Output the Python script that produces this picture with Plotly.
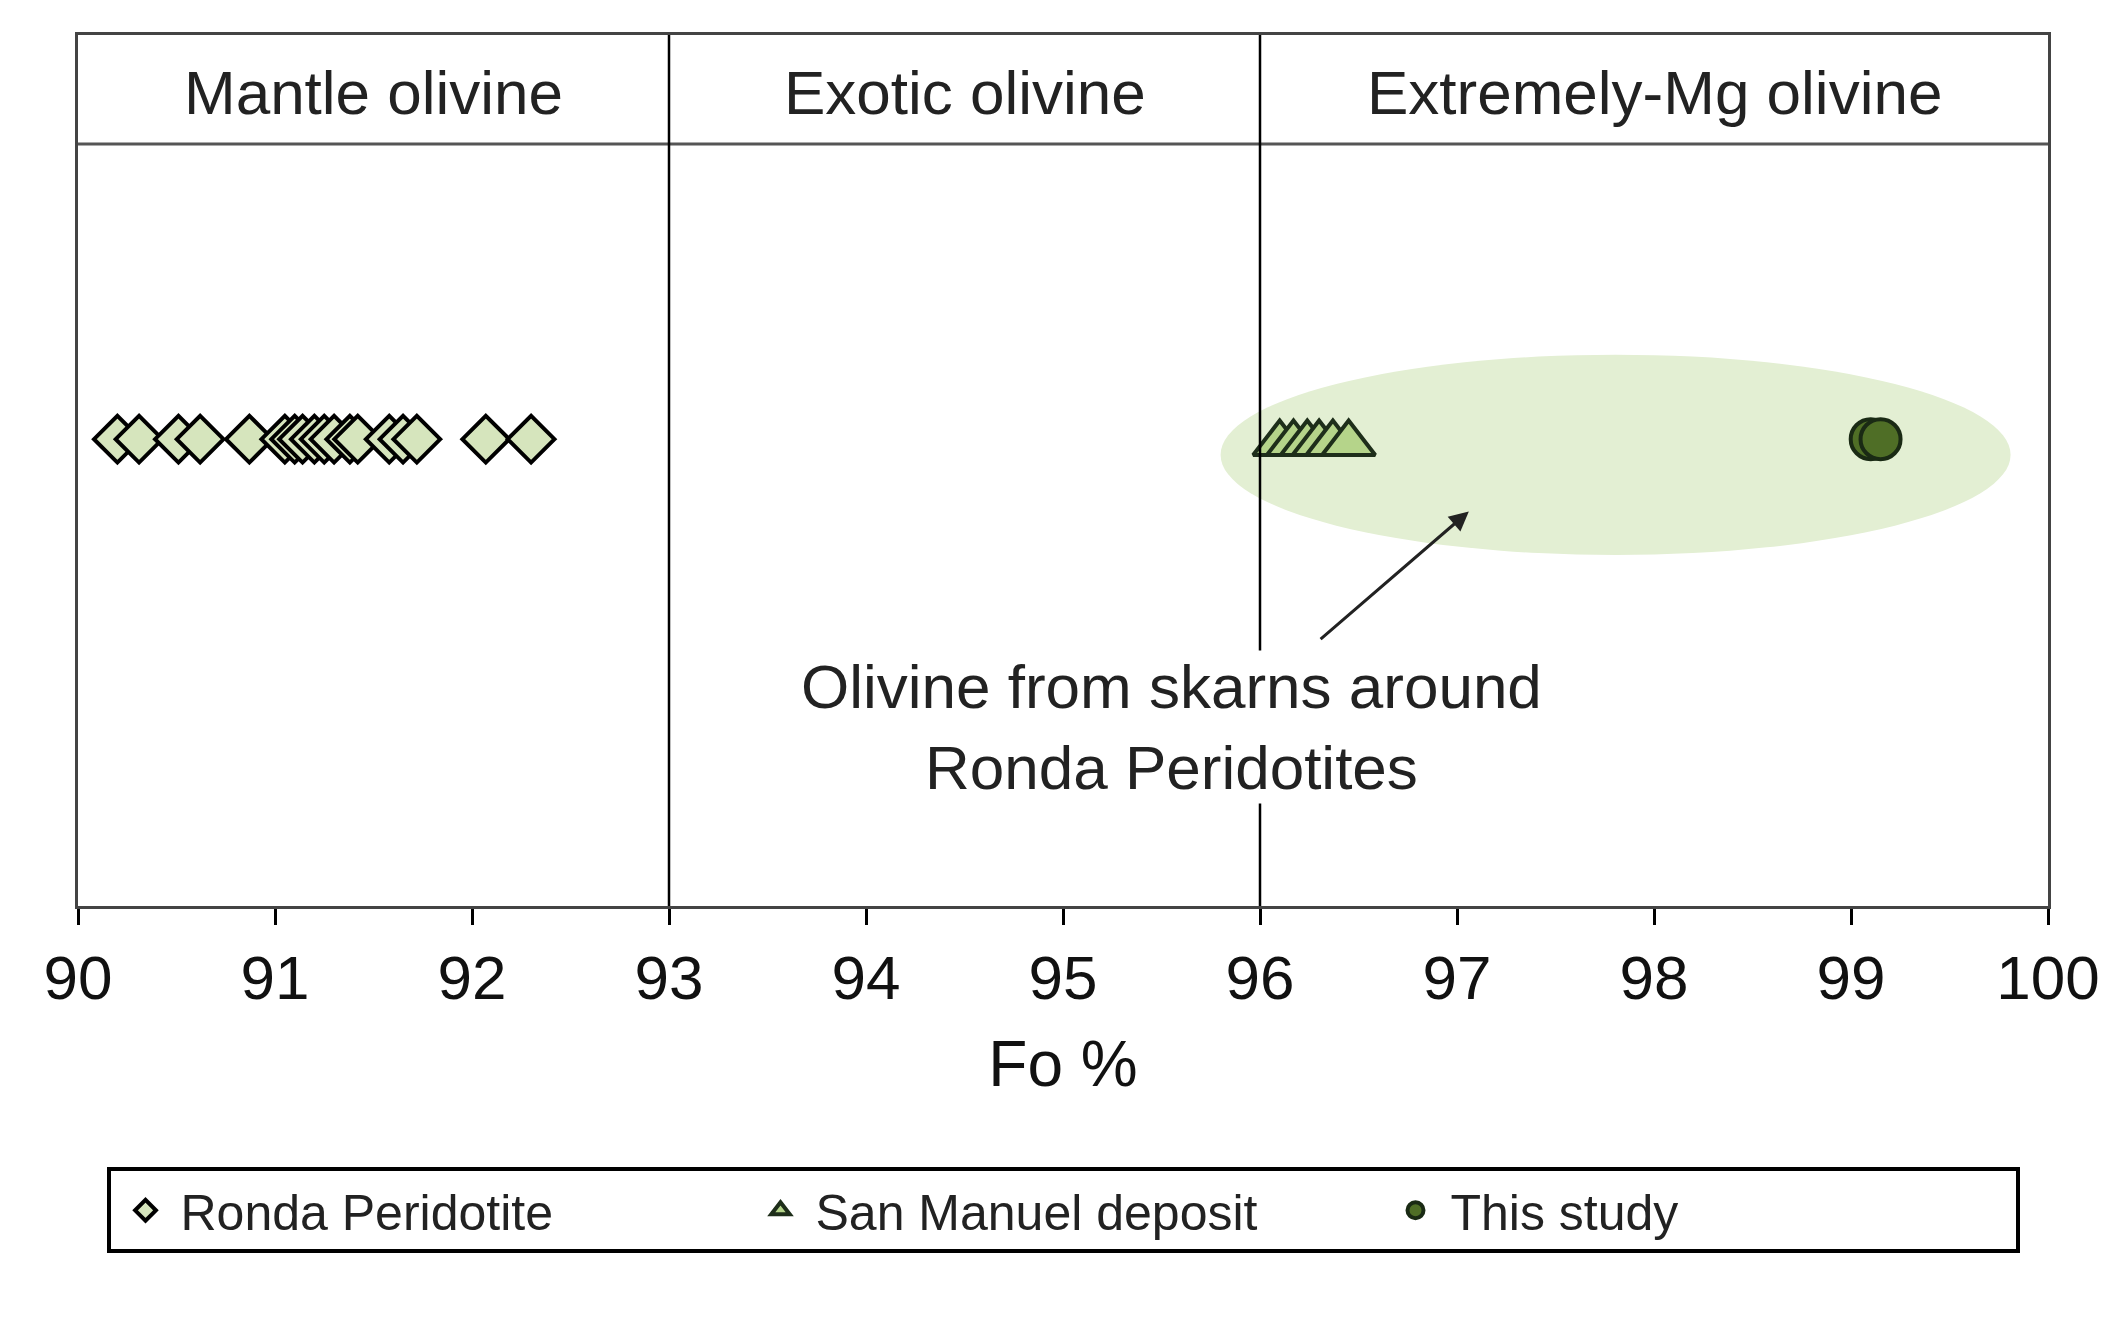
import plotly.graph_objects as go

ronda_fo = [90.2, 90.31, 90.51, 90.62, 90.87, 91.05, 91.1, 91.14, 91.2, 91.25, 91.3, 91.38, 91.42, 91.58, 91.65, 91.72, 92.07, 92.3]
sanmanuel_fo = [96.1, 96.17, 96.24, 96.3, 96.37, 96.45]
study_fo = [99.1, 99.15]
zones = ["Mantle olivine", "Exotic olivine", "Extremely-Mg olivine"]
zone_bounds = [90, 93, 96, 100]
ticks = list(range(90, 101))
ROW = 0.536

F = "Liberation Sans, Arial, sans-serif"
fig = go.Figure()
fig.add_shape(type="circle", xref="x", yref="y", x0=95.8, x1=99.81, y0=0.403, y1=0.633,
              fillcolor="#e3efd3", line=dict(width=0), layer="below")
fig.add_trace(go.Scatter(x=ronda_fo, y=[ROW]*len(ronda_fo), mode="markers", name="Ronda Peridotite",
    marker=dict(symbol="diamond", size=36, color="#d6e5bd", line=dict(color="black", width=4))))
fig.add_trace(go.Scatter(x=sanmanuel_fo, y=[ROW-0.005]*len(sanmanuel_fo), mode="markers", name="San Manuel deposit",
    marker=dict(symbol="triangle-up", size=46, color="#b5d48a", line=dict(color="#1e2e1a", width=4))))
fig.add_trace(go.Scatter(x=study_fo, y=[ROW]*len(study_fo), mode="markers", name="This study",
    marker=dict(symbol="circle", size=40, color="#4f6e26", line=dict(color="#1a2a14", width=4))))

fig.add_shape(type="line", xref="paper", yref="y", x0=0, x1=1, y0=0.875, y1=0.875, line=dict(color="#555", width=3))
for b in zone_bounds[1:-1]:
    fig.add_shape(type="line", xref="x", yref="y", x0=b, x1=b, y0=0, y1=1, line=dict(color="black", width=2.5))
for i, z in enumerate(zones):
    fig.add_annotation(x=(zone_bounds[i]+zone_bounds[i+1])/2, y=0.934, text=z, showarrow=False,
                       font=dict(size=62, color="#222", family=F))
fig.add_annotation(x=95.55, y=0.205, text="Olivine from skarns around<br>Ronda Peridotites", showarrow=False,
                   font=dict(size=62, color="#222", family=F), bgcolor="white", align="center")
fig.add_annotation(x=97.06, y=0.453, ax=96.3, ay=0.305, xref="x", yref="y", axref="x", ayref="y",
                   text="", showarrow=True, arrowhead=2, arrowsize=1.3, arrowwidth=3, arrowcolor="#222")

fig.update_layout(
    width=2120, height=1325, paper_bgcolor="white", plot_bgcolor="white",
    margin=dict(l=70, r=80, t=27, b=427),
    font=dict(family=F, color="#111"),
    xaxis=dict(range=[90, 100], tickvals=ticks, ticks="outside", ticklen=16, tickwidth=3, tickcolor="black",
               showgrid=False, zeroline=False, showline=True, linecolor="#444", linewidth=3, mirror=True,
               tickfont=dict(size=62), title=dict(text="Fo %", font=dict(size=64), standoff=30)),
    yaxis=dict(range=[0, 1], showticklabels=False, ticks="", showgrid=False, zeroline=False,
               showline=True, linecolor="#444", linewidth=3, mirror=True),
    legend=dict(orientation="h", x=0.5, xanchor="center", y=-0.3, yanchor="top",
                bordercolor="black", borderwidth=4, font=dict(size=50, color="#222"),
                itemwidth=60, entrywidth=560, entrywidthmode="pixels"),
)
fig.write_html("out.html")
